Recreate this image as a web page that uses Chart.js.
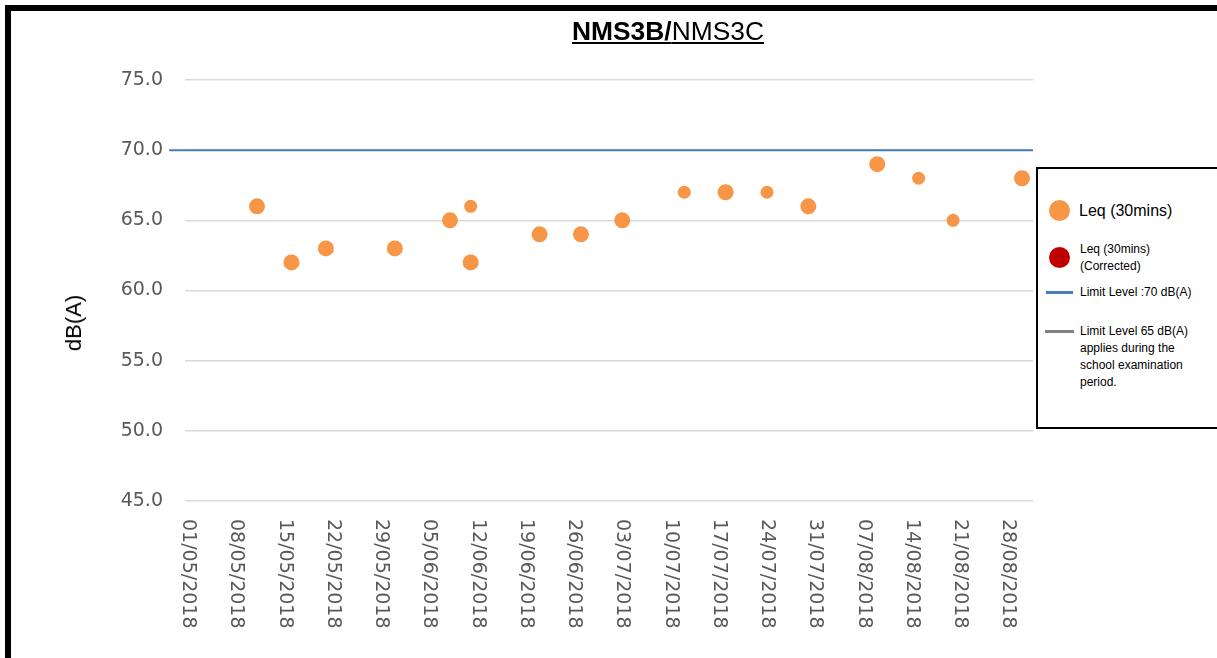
<!DOCTYPE html>
<html lang="en">
<head>
<meta charset="UTF-8">
<title>NMS3B/NMS3C</title>
<script src="https://cdn.jsdelivr.net/npm/chart.js"></script>
<style>
  body {
    margin: 0;
    width: 1217px;
    height: 658px;
    overflow: hidden;
    position: relative;
    background: #fff;
    font-family: "Liberation Sans", Arial, sans-serif;
  }
  .frame {
    position: absolute;
    left: 5px;
    top: 5px;
    width: 1400px;
    height: 800px;
    border-left: 6px solid #000;
    border-top: 6px solid #000;
  }
  #chart { position: absolute; left: 0; top: 0; }
  .title {
    position: absolute;
    left: 572px;
    top: 17px;
    font-size: 25px;
    color: #000;
    text-decoration: underline;
    white-space: nowrap;
    transform: scaleX(1.055);
    transform-origin: left top;
  }
  .title b { font-weight: bold; }
  .ytitle {
    position: absolute;
    left: 74px;
    top: 323px;
    transform: translate(-50%, -50%) rotate(-90deg);
    font-size: 22px;
    color: #000;
    white-space: nowrap;
  }
  .legend {
    position: absolute;
    left: 1036px;
    top: 167px;
    width: 200px;
    height: 258px;
    border: 2px solid #000;
    background: #fff;
  }
  .dot { position: absolute; border-radius: 50%; }
  .bar { position: absolute; height: 3px; }
  .txt { position: absolute; color: #000; white-space: nowrap; font-size: 12px; line-height: 17px; }
</style>
</head>
<body>
<div class="frame"></div>
<canvas id="chart" width="1217" height="658"></canvas>
<div class="title"><b>NMS3B/</b>NMS3C</div>
<div class="ytitle">dB(A)</div>
<div class="legend" id="legend"></div>

<script>
// measurement dates and Leq values
const measureDates = ['11/05/2018', '16/05/2018', '21/05/2018', '31/05/2018', '08/06/2018', '11/06/2018',
  '11/06/2018', '21/06/2018', '27/06/2018', '03/07/2018', '12/07/2018', '18/07/2018', '24/07/2018',
  '30/07/2018', '09/08/2018', '15/08/2018', '20/08/2018', '30/08/2018'];
const leqValues = [66, 62, 63, 63, 65, 66, 62, 64, 64, 65, 67, 67, 67, 66, 69, 68, 65, 68];
const correctedValues = [];

const limitLevel = 70;
const tickLabels = ['01/05/2018', '08/05/2018', '15/05/2018', '22/05/2018', '29/05/2018', '05/06/2018',
  '12/06/2018', '19/06/2018', '26/06/2018', '03/07/2018', '10/07/2018', '17/07/2018', '24/07/2018',
  '31/07/2018', '07/08/2018', '14/08/2018', '21/08/2018', '28/08/2018'];
const yTicks = [45, 50, 55, 60, 65, 70, 75];

const seriesNames = ['Leq (30mins)', 'Leq (30mins) (Corrected)', 'Limit Level :70 dB(A)',
  'Limit Level 65 dB(A) applies during the school examination period.'];

// points drawn a bit smaller in the original
const smallPoints = [5, 10, 12, 15, 16];

const day0 = Date.UTC(2018, 4, 1);
function toDay(s) {
  const p = s.split('/');
  return (Date.UTC(+p[2], +p[1] - 1, +p[0]) - day0) / 86400000;
}

const xMin = -0.45, xMax = 122.6;
const tickDays = tickLabels.map(toDay);

const labelColor = '#595959';

const rotatedLabels = {
  id: 'rotatedLabels',
  afterDraw(chart) {
    const sc = chart.scales.x;
    const c = chart.ctx;
    c.save();
    c.font = '19px "DejaVu Sans"';
    c.fillStyle = labelColor;
    c.textAlign = 'left';
    c.textBaseline = 'middle';
    tickDays.forEach((d, i) => {
      c.save();
      c.translate(sc.getPixelForValue(d), chart.chartArea.bottom + 18);
      c.rotate(Math.PI / 2);
      c.fillText(tickLabels[i], 0, 0);
      c.restore();
    });
    c.restore();
  }
};

const chart = new Chart(document.getElementById('chart'), {
  type: 'scatter',
  data: {
    datasets: [{
      label: seriesNames[0],
      data: measureDates.map((d, i) => ({ x: toDay(d), y: leqValues[i] })),
      backgroundColor: '#F79646',
      borderWidth: 0,
      pointRadius: ctx => smallPoints.includes(ctx.dataIndex) ? 6.5 : 8,
      pointHoverRadius: ctx => smallPoints.includes(ctx.dataIndex) ? 6.5 : 8
    }, {
      label: seriesNames[1],
      data: correctedValues,
      backgroundColor: '#C00000',
      borderWidth: 0,
      pointRadius: 8
    }, {
      label: seriesNames[2],
      data: [{ x: -2.75, y: limitLevel }, { x: xMax, y: limitLevel }],
      showLine: true,
      borderColor: '#4A7EBB',
      borderWidth: 2,
      pointRadius: 0,
      clip: false
    }, {
      label: seriesNames[3],
      data: [],
      showLine: true,
      borderColor: '#808080',
      borderWidth: 3,
      pointRadius: 0
    }]
  },
  options: {
    responsive: false,
    animation: false,
    layout: { padding: { left: 0, top: 80, right: 1217 - 1033, bottom: 0 } },
    plugins: { legend: { display: false }, tooltip: { enabled: false } },
    scales: {
      x: {
        type: 'linear',
        min: xMin,
        max: xMax,
        afterBuildTicks: sc => { sc.ticks = tickDays.map(v => ({ value: v })); },
        ticks: { display: false },
        grid: { display: false },
        border: { display: false },
        afterFit: sc => { sc.height = 658 - 501; }
      },
      y: {
        min: 45,
        max: 75,
        afterBuildTicks: sc => { sc.ticks = yTicks.map(v => ({ value: v })); },
        ticks: {
          color: labelColor,
          font: { family: 'DejaVu Sans', size: 19 },
          padding: 22,
          callback: v => v.toFixed(1)
        },
        grid: { color: '#d9d9d9', lineWidth: 1.5, drawTicks: false },
        border: { display: false },
        afterFit: sc => { sc.width = 185; }
      }
    }
  },
  plugins: [rotatedLabels]
});

// legend, built from the datasets
const lg = document.getElementById('legend');
const ds = chart.data.datasets;
lg.innerHTML =
  `<div class="dot" style="left:11px;top:31px;width:21px;height:21px;background:${ds[0].backgroundColor}"></div>` +
  `<div class="txt" style="left:41px;top:32px;font-size:16px;line-height:20px">${ds[0].label}</div>` +
  `<div class="dot" style="left:11px;top:78px;width:21px;height:21px;background:${ds[1].backgroundColor}"></div>` +
  `<div class="txt" style="left:42px;top:72px">Leq (30mins)<br>(Corrected)</div>` +
  `<div class="bar" style="left:8px;top:122px;width:27px;background:${ds[2].borderColor}"></div>` +
  `<div class="txt" style="left:42px;top:115px">${ds[2].label}</div>` +
  `<div class="bar" style="left:7px;top:161px;width:29px;background:${ds[3].borderColor}"></div>` +
  `<div class="txt" style="left:42px;top:154px">Limit Level 65 dB(A)<br>applies during the<br>school examination<br>period.</div>`;
</script>
</body>
</html>
